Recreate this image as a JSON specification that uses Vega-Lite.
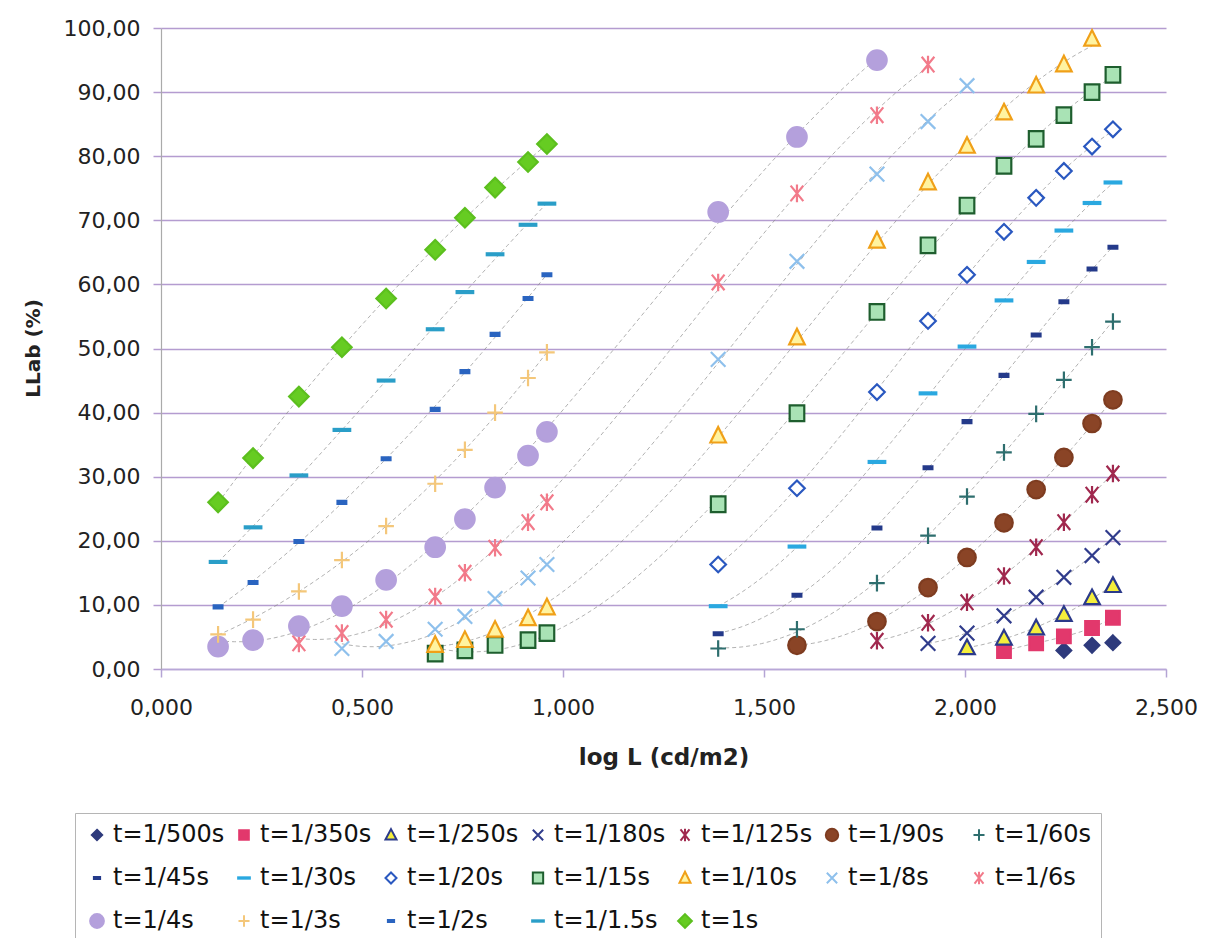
{
  "$schema": "https://vega.github.io/schema/vega-lite/v6.json",
  "width": 1005,
  "height": 641,
  "autosize": {"type": "none"},
  "padding": {"left": 161, "top": 28, "right": 40, "bottom": 269},
  "background": "white",
  "config": {
    "locale": {"number": {"decimal": ",", "thousands": ".", "grouping": [3], "currency": ["", " €"]}},
    "font": "DejaVu Sans",
    "view": {"stroke": null},
    "legend": {
      "title": null,
      "labelFontSize": 24,
      "labelColor": "#111111",
      "labelFont": "DejaVu Sans",
      "symbolSize": 190,
      "symbolStrokeWidth": 2,
      "strokeColor": "#b5b5b5",
      "padding": 10,
      "rowPadding": 19,
      "columnPadding": 7,
      "labelOffset": 4,
      "gridAlign": "all",
      "labelLimit": 300
    }
  },
  "data": {"values": [
    {"s":"t=1/500s","x":2.246,"y":2.9},{"s":"t=1/500s","x":2.316,"y":3.7},{"s":"t=1/500s","x":2.368,"y":4.1},
    {"s":"t=1/350s","x":2.097,"y":2.8},{"s":"t=1/350s","x":2.177,"y":4.0},{"s":"t=1/350s","x":2.246,"y":5.1},{"s":"t=1/350s","x":2.316,"y":6.4},{"s":"t=1/350s","x":2.368,"y":8.0},
    {"s":"t=1/250s","x":2.005,"y":3.3},{"s":"t=1/250s","x":2.097,"y":4.8},{"s":"t=1/250s","x":2.177,"y":6.4},{"s":"t=1/250s","x":2.246,"y":8.5},{"s":"t=1/250s","x":2.316,"y":11.1},{"s":"t=1/250s","x":2.368,"y":13.0},
    {"s":"t=1/180s","x":1.908,"y":4.0},{"s":"t=1/180s","x":2.005,"y":5.6},{"s":"t=1/180s","x":2.097,"y":8.3},{"s":"t=1/180s","x":2.177,"y":11.2},{"s":"t=1/180s","x":2.246,"y":14.3},{"s":"t=1/180s","x":2.316,"y":17.7},{"s":"t=1/180s","x":2.368,"y":20.5},
    {"s":"t=1/125s","x":1.781,"y":4.4},{"s":"t=1/125s","x":1.908,"y":7.2},{"s":"t=1/125s","x":2.005,"y":10.4},{"s":"t=1/125s","x":2.097,"y":14.5},{"s":"t=1/125s","x":2.177,"y":19.0},{"s":"t=1/125s","x":2.246,"y":22.9},{"s":"t=1/125s","x":2.316,"y":27.2},{"s":"t=1/125s","x":2.368,"y":30.5},
    {"s":"t=1/90s","x":1.582,"y":3.7},{"s":"t=1/90s","x":1.781,"y":7.4},{"s":"t=1/90s","x":1.908,"y":12.7},{"s":"t=1/90s","x":2.005,"y":17.4},{"s":"t=1/90s","x":2.097,"y":22.8},{"s":"t=1/90s","x":2.177,"y":28.0},{"s":"t=1/90s","x":2.246,"y":33.0},{"s":"t=1/90s","x":2.316,"y":38.3},{"s":"t=1/90s","x":2.368,"y":42.0},
    {"s":"t=1/60s","x":1.386,"y":3.2},{"s":"t=1/60s","x":1.582,"y":6.2},{"s":"t=1/60s","x":1.781,"y":13.4},{"s":"t=1/60s","x":1.908,"y":20.8},{"s":"t=1/60s","x":2.005,"y":26.9},{"s":"t=1/60s","x":2.097,"y":33.8},{"s":"t=1/60s","x":2.177,"y":39.8},{"s":"t=1/60s","x":2.246,"y":45.1},{"s":"t=1/60s","x":2.316,"y":50.2},{"s":"t=1/60s","x":2.368,"y":54.2},
    {"s":"t=1/45s","x":1.386,"y":5.5},{"s":"t=1/45s","x":1.582,"y":11.5},{"s":"t=1/45s","x":1.781,"y":22.0},{"s":"t=1/45s","x":1.908,"y":31.4},{"s":"t=1/45s","x":2.005,"y":38.6},{"s":"t=1/45s","x":2.097,"y":45.8},{"s":"t=1/45s","x":2.177,"y":52.1},{"s":"t=1/45s","x":2.246,"y":57.3},{"s":"t=1/45s","x":2.316,"y":62.4},{"s":"t=1/45s","x":2.368,"y":65.8},
    {"s":"t=1/30s","x":1.386,"y":9.8},{"s":"t=1/30s","x":1.582,"y":19.1},{"s":"t=1/30s","x":1.781,"y":32.3},{"s":"t=1/30s","x":1.908,"y":43.0},{"s":"t=1/30s","x":2.005,"y":50.3},{"s":"t=1/30s","x":2.097,"y":57.5},{"s":"t=1/30s","x":2.177,"y":63.5},{"s":"t=1/30s","x":2.246,"y":68.4},{"s":"t=1/30s","x":2.316,"y":72.7},{"s":"t=1/30s","x":2.368,"y":75.9},
    {"s":"t=1/20s","x":1.386,"y":16.3},{"s":"t=1/20s","x":1.582,"y":28.2},{"s":"t=1/20s","x":1.781,"y":43.2},{"s":"t=1/20s","x":1.908,"y":54.3},{"s":"t=1/20s","x":2.005,"y":61.5},{"s":"t=1/20s","x":2.097,"y":68.2},{"s":"t=1/20s","x":2.177,"y":73.5},{"s":"t=1/20s","x":2.246,"y":77.7},{"s":"t=1/20s","x":2.316,"y":81.5},{"s":"t=1/20s","x":2.368,"y":84.2},
    {"s":"t=1/15s","x":0.682,"y":2.4},{"s":"t=1/15s","x":0.756,"y":2.9},{"s":"t=1/15s","x":0.831,"y":3.75},{"s":"t=1/15s","x":0.913,"y":4.5},{"s":"t=1/15s","x":0.960,"y":5.6},{"s":"t=1/15s","x":1.386,"y":25.7},{"s":"t=1/15s","x":1.582,"y":39.9},{"s":"t=1/15s","x":1.781,"y":55.7},{"s":"t=1/15s","x":1.908,"y":66.1},{"s":"t=1/15s","x":2.005,"y":72.3},{"s":"t=1/15s","x":2.097,"y":78.5},{"s":"t=1/15s","x":2.177,"y":82.7},{"s":"t=1/15s","x":2.246,"y":86.4},{"s":"t=1/15s","x":2.316,"y":90.0},{"s":"t=1/15s","x":2.368,"y":92.7},
    {"s":"t=1/10s","x":0.682,"y":3.75},{"s":"t=1/10s","x":0.756,"y":4.5},{"s":"t=1/10s","x":0.831,"y":6.1},{"s":"t=1/10s","x":0.913,"y":7.9},{"s":"t=1/10s","x":0.960,"y":9.6},{"s":"t=1/10s","x":1.386,"y":36.4},{"s":"t=1/10s","x":1.582,"y":51.7},{"s":"t=1/10s","x":1.781,"y":66.8},{"s":"t=1/10s","x":1.908,"y":75.9},{"s":"t=1/10s","x":2.005,"y":81.6},{"s":"t=1/10s","x":2.097,"y":86.8},{"s":"t=1/10s","x":2.177,"y":91.0},{"s":"t=1/10s","x":2.246,"y":94.3},{"s":"t=1/10s","x":2.316,"y":98.3},
    {"s":"t=1/8s","x":0.450,"y":3.2},{"s":"t=1/8s","x":0.560,"y":4.3},{"s":"t=1/8s","x":0.682,"y":6.2},{"s":"t=1/8s","x":0.756,"y":8.2},{"s":"t=1/8s","x":0.831,"y":11.0},{"s":"t=1/8s","x":0.913,"y":14.2},{"s":"t=1/8s","x":0.960,"y":16.3},{"s":"t=1/8s","x":1.386,"y":48.3},{"s":"t=1/8s","x":1.582,"y":63.6},{"s":"t=1/8s","x":1.781,"y":77.2},{"s":"t=1/8s","x":1.908,"y":85.4},{"s":"t=1/8s","x":2.005,"y":91.0},
    {"s":"t=1/6s","x":0.343,"y":4.0},{"s":"t=1/6s","x":0.450,"y":5.6},{"s":"t=1/6s","x":0.560,"y":7.7},{"s":"t=1/6s","x":0.682,"y":11.3},{"s":"t=1/6s","x":0.756,"y":15.0},{"s":"t=1/6s","x":0.831,"y":18.9},{"s":"t=1/6s","x":0.913,"y":22.9},{"s":"t=1/6s","x":0.960,"y":26.0},{"s":"t=1/6s","x":1.386,"y":60.3},{"s":"t=1/6s","x":1.582,"y":74.2},{"s":"t=1/6s","x":1.781,"y":86.4},{"s":"t=1/6s","x":1.908,"y":94.3},
    {"s":"t=1/4s","x":0.142,"y":3.5},{"s":"t=1/4s","x":0.229,"y":4.5},{"s":"t=1/4s","x":0.343,"y":6.7},{"s":"t=1/4s","x":0.450,"y":9.8},{"s":"t=1/4s","x":0.560,"y":13.9},{"s":"t=1/4s","x":0.682,"y":19.0},{"s":"t=1/4s","x":0.756,"y":23.4},{"s":"t=1/4s","x":0.831,"y":28.3},{"s":"t=1/4s","x":0.913,"y":33.3},{"s":"t=1/4s","x":0.960,"y":37.0},{"s":"t=1/4s","x":1.386,"y":71.3},{"s":"t=1/4s","x":1.582,"y":83.0},{"s":"t=1/4s","x":1.781,"y":95.0},
    {"s":"t=1/3s","x":0.142,"y":5.4},{"s":"t=1/3s","x":0.229,"y":7.7},{"s":"t=1/3s","x":0.343,"y":12.1},{"s":"t=1/3s","x":0.450,"y":17.0},{"s":"t=1/3s","x":0.560,"y":22.3},{"s":"t=1/3s","x":0.682,"y":28.9},{"s":"t=1/3s","x":0.756,"y":34.2},{"s":"t=1/3s","x":0.831,"y":40.0},{"s":"t=1/3s","x":0.913,"y":45.4},{"s":"t=1/3s","x":0.960,"y":49.4},
    {"s":"t=1/2s","x":0.142,"y":9.7},{"s":"t=1/2s","x":0.229,"y":13.5},{"s":"t=1/2s","x":0.343,"y":19.9},{"s":"t=1/2s","x":0.450,"y":26.0},{"s":"t=1/2s","x":0.560,"y":32.8},{"s":"t=1/2s","x":0.682,"y":40.5},{"s":"t=1/2s","x":0.756,"y":46.4},{"s":"t=1/2s","x":0.831,"y":52.2},{"s":"t=1/2s","x":0.913,"y":57.8},{"s":"t=1/2s","x":0.960,"y":61.5},
    {"s":"t=1/1.5s","x":0.142,"y":16.7},{"s":"t=1/1.5s","x":0.229,"y":22.1},{"s":"t=1/1.5s","x":0.343,"y":30.2},{"s":"t=1/1.5s","x":0.450,"y":37.3},{"s":"t=1/1.5s","x":0.560,"y":45.0},{"s":"t=1/1.5s","x":0.682,"y":53.0},{"s":"t=1/1.5s","x":0.756,"y":58.8},{"s":"t=1/1.5s","x":0.831,"y":64.7},{"s":"t=1/1.5s","x":0.913,"y":69.3},{"s":"t=1/1.5s","x":0.960,"y":72.6},
    {"s":"t=1s","x":0.142,"y":26.0},{"s":"t=1s","x":0.229,"y":32.9},{"s":"t=1s","x":0.343,"y":42.5},{"s":"t=1s","x":0.450,"y":50.2},{"s":"t=1s","x":0.560,"y":57.8},{"s":"t=1s","x":0.682,"y":65.4},{"s":"t=1s","x":0.756,"y":70.4},{"s":"t=1s","x":0.831,"y":75.1},{"s":"t=1s","x":0.913,"y":79.1},{"s":"t=1s","x":0.960,"y":81.9}
  ]},
  "encoding": {
    "x": {
      "field": "x", "type": "quantitative",
      "scale": {"domain": [0, 2.5], "nice": false, "zero": false},
      "axis": {
        "values": [0, 0.5, 1, 1.5, 2, 2.5], "format": ".3f", "grid": false,
        "title": "log L (cd/m2)", "titleFontSize": 23, "titleFontWeight": "bold", "titleColor": "#222222",
        "titleBaseline": "middle", "titleY": 88,
        "labelFontSize": 22, "labelColor": "#222222", "labelBaseline": "middle", "labelPadding": 30, "labelFlush": false,
        "tickSize": 8, "tickColor": "#b4a4d4", "tickWidth": 1.5,
        "domainColor": "#b8a8d8", "domainWidth": 1.5
      }
    },
    "y": {
      "field": "y", "type": "quantitative",
      "scale": {"domain": [0, 100], "nice": false},
      "axis": {
        "values": [0, 10, 20, 30, 40, 50, 60, 70, 80, 90, 100], "format": ".2f",
        "grid": true, "gridColor": "#b49cd0", "gridWidth": 1.5, "gridOpacity": 1,
        "title": "LLab (%)", "titleFontSize": 20, "titleFontWeight": "bold", "titleColor": "#222222",
        "titleBaseline": "middle", "titleX": -128, "titleY": 320, "titleAngle": -90,
        "labelFontSize": 22, "labelColor": "#222222", "labelPadding": 13,
        "tickSize": 8, "tickColor": "#b49cd0", "tickWidth": 1.5,
        "domainColor": "#aaaaaa", "domainWidth": 1.2
      }
    }
  },
  "layer": [
    {
      "transform": [
        {"filter": "datum.s !== 't=1/500s'"},
        {"regression": "y", "on": "x", "groupby": ["s"], "method": "poly", "order": 3}
      ],
      "mark": {"type": "line", "stroke": "#8a8a8a", "strokeWidth": 0.9, "strokeDash": [4, 3], "opacity": 0.75, "clip": true},
      "encoding": {"detail": {"field": "s", "type": "nominal"}}
    },
    {
      "mark": {"type": "point", "size": 380, "strokeWidth": 2.2, "opacity": 1, "filled": false},
      "encoding": {
        "shape": {
          "field": "s", "type": "nominal",
          "scale": {
            "domain": ["t=1/500s","t=1/350s","t=1/250s","t=1/180s","t=1/125s","t=1/90s","t=1/60s","t=1/45s","t=1/30s","t=1/20s","t=1/15s","t=1/10s","t=1/8s","t=1/6s","t=1/4s","t=1/3s","t=1/2s","t=1/1.5s","t=1s"],
            "range": [
              "M0,-0.75L0.75,0L0,0.75L-0.75,0Z",
              "M-0.7,-0.7L0.7,-0.7L0.7,0.7L-0.7,0.7Z",
              "M0,-0.85L0.8,0.65L-0.8,0.65Z",
              "M-0.75,-0.75L0.75,0.75M-0.75,0.75L0.75,-0.75",
              "M-0.65,-0.8L0.65,0.8M-0.65,0.8L0.65,-0.8M0,-0.9L0,0.9",
              "M0.9,0A0.9,0.9,0,1,1,-0.9,0A0.9,0.9,0,1,1,0.9,0Z",
              "M-0.8,0L0.8,0M0,-0.85L0,0.85",
              "M-0.45,-0.15L0.45,-0.15L0.45,0.15L-0.45,0.15Z",
              "M-0.85,-0.1L0.85,-0.1L0.85,0.1L-0.85,0.1Z",
              "M0,-0.8L0.8,0L0,0.8L-0.8,0Z",
              "M-0.75,-0.8L0.75,-0.8L0.75,0.8L-0.75,0.8Z",
              "M0,-0.9L0.8,0.7L-0.8,0.7Z",
              "M-0.75,-0.75L0.75,0.75M-0.75,0.75L0.75,-0.75",
              "M-0.65,-0.8L0.65,0.8M-0.65,0.8L0.65,-0.8M0,-0.9L0,0.9",
              "M1,0A1,1,0,1,1,-1,0A1,1,0,1,1,1,0Z",
              "M-0.8,0L0.8,0M0,-0.85L0,0.85",
              "M-0.45,-0.15L0.45,-0.15L0.45,0.15L-0.45,0.15Z",
              "M-0.85,-0.1L0.85,-0.1L0.85,0.1L-0.85,0.1Z",
              "M0,-1L1,0L0,1L-1,0Z"
            ]
          },
          "legend": {"orient": "none", "legendX": -86, "legendY": 785, "columns": 7, "direction": "horizontal"}
        },
        "fill": {
          "field": "s", "type": "nominal",
          "scale": {
            "domain": ["t=1/500s","t=1/350s","t=1/250s","t=1/180s","t=1/125s","t=1/90s","t=1/60s","t=1/45s","t=1/30s","t=1/20s","t=1/15s","t=1/10s","t=1/8s","t=1/6s","t=1/4s","t=1/3s","t=1/2s","t=1/1.5s","t=1s"],
            "range": ["#2e3a7c","#e2386c","#f4ee3c","#303c8c","#a0284e","#8a4426","#2e6e6e","#243a8a","#2aa8e0","#ffffff","#a9e3b5","#fff3a0","#8ec0ec","#f27a8a","#b4a0dc","#f4c77a","#2a64c0","#2a9ec8","#66cc22"]
          },
          "legend": {"orient": "none", "legendX": -86, "legendY": 785, "columns": 7, "direction": "horizontal"}
        },
        "stroke": {
          "field": "s", "type": "nominal",
          "scale": {
            "domain": ["t=1/500s","t=1/350s","t=1/250s","t=1/180s","t=1/125s","t=1/90s","t=1/60s","t=1/45s","t=1/30s","t=1/20s","t=1/15s","t=1/10s","t=1/8s","t=1/6s","t=1/4s","t=1/3s","t=1/2s","t=1/1.5s","t=1s"],
            "range": ["#2e3a7c","#e2386c","#2b3a8a","#303c8c","#a0284e","#7e3c20","#2e6e6e","#243a8a","#2aa8e0","#2a58c0","#1e5e2e","#f0a018","#8ec0ec","#f27a8a","#b4a0dc","#f4c77a","#2a64c0","#2a9ec8","#5cbf1e"]
          },
          "legend": {"orient": "none", "legendX": -86, "legendY": 785, "columns": 7, "direction": "horizontal"}
        }
      }
    }
  ]
}
